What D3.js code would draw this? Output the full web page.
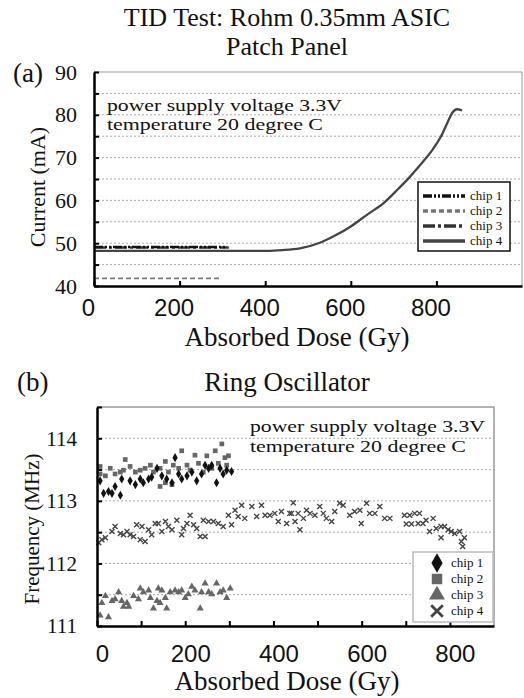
<!DOCTYPE html>
<html>
<head>
<meta charset="utf-8">
<script src="https://cdn.jsdelivr.net/npm/d3@7"></script>
<style>
  body { margin: 0; background: #fff; }
  svg text { font-family: "Liberation Serif", "Times New Roman", serif; fill: #111; }
  .xnum text { font-family: "Liberation Sans", Arial, sans-serif; }
</style>
</head>
<body>
<svg id="chart" width="524" height="698"></svg>
<script>
// ---- panel (a): current vs dose ----
const chipNames = ["chip 1", "chip 2", "chip 3", "chip 4"];

const chip1Dose = [0, 310];
const chip1Current = [49.1, 49.1];
const chip2Dose = [0, 294];
const chip2Current = [41.8, 41.8];
const chip3Dose = [0, 315];
const chip3Current = [49.0, 49.0];
const chip4Dose = [0, 100, 200, 300, 381, 440, 481, 528, 560, 600, 640, 676, 710, 738, 765, 792, 810, 826, 838, 848, 860];
const chip4Current = [48.2, 48.2, 48.2, 48.2, 48.2, 48.4, 48.8, 50.1, 51.6, 53.9, 56.8, 59.3, 62.6, 65.5, 68.6, 72.0, 74.8, 78.2, 80.6, 81.3, 81.0];

const currentTicks = [40, 45, 50, 55, 60, 65, 70, 75, 80, 85, 90];
const currentLabels = [40, 50, 60, 70, 80, 90];
const currentGrid = [45, 50, 55, 60, 65, 70, 75, 80, 85];
const doseTicksA = [0, 200, 400, 600, 800];

// ---- panel (b): ring oscillator frequency vs dose ----
const ro1Dose = [7, 15, 26, 34, 41, 53, 56, 75, 87, 98, 105, 117, 124, 136, 147, 158, 170, 177, 185, 192, 204, 215, 226, 237, 245, 253, 260, 271, 279, 286, 294, 305];
const ro1Freq = [113.32, 113.12, 113.15, 113.12, 113.23, 113.09, 113.35, 113.32, 113.26, 113.35, 113.29, 113.35, 113.38, 113.52, 113.40, 113.35, 113.29, 113.69, 113.43, 113.35, 113.40, 113.46, 113.32, 113.43, 113.57, 113.52, 113.57, 113.29, 113.52, 113.43, 113.49, 113.47];

const ro2Dose = [7, 7, 19, 30, 41, 53, 60, 64, 75, 87, 98, 109, 121, 128, 143, 143, 155, 155, 162, 170, 173, 185, 192, 204, 211, 222, 230, 241, 249, 260, 268, 275, 283, 290, 294, 298];
const ro2Freq = [113.55, 113.43, 113.40, 113.52, 113.43, 113.46, 113.49, 113.66, 113.55, 113.46, 113.49, 113.52, 113.57, 113.46, 113.52, 113.23, 113.63, 113.29, 113.46, 113.26, 113.57, 113.52, 113.80, 113.57, 113.49, 113.73, 113.60, 113.46, 113.72, 113.52, 113.80, 113.60, 113.91, 113.69, 113.57, 113.72];

const ro3Dose = [7, 11, 19, 26, 34, 41, 49, 56, 60, 68, 72, 83, 94, 98, 105, 117, 121, 128, 136, 139, 143, 147, 155, 158, 166, 177, 185, 192, 200, 207, 215, 222, 234, 237, 245, 253, 260, 271, 279, 286, 294, 302];
const ro3Freq = [111.17, 111.37, 111.48, 111.14, 111.40, 111.43, 111.54, 111.40, 111.31, 111.37, 111.31, 111.48, 111.43, 111.60, 111.54, 111.57, 111.45, 111.28, 111.40, 111.60, 111.37, 111.57, 111.45, 111.28, 111.54, 111.57, 111.54, 111.57, 111.45, 111.51, 111.63, 111.57, 111.28, 111.54, 111.68, 111.54, 111.51, 111.68, 111.54, 111.57, 111.45, 111.60];

const ro4Dose = [4, 11, 19, 34, 41, 53, 60, 68, 75, 83, 90, 98, 102, 109, 117, 124, 132, 139, 147, 155, 162, 170, 181, 192, 196, 204, 211, 219, 226, 234, 241, 245, 253, 264, 275, 286, 298, 305, 313, 320, 328, 335, 351, 362, 373, 381, 392, 403, 411, 418, 430, 437, 441, 445, 449, 456, 460, 468, 475, 483, 494, 505, 513, 520, 532, 539, 550, 558, 573, 584, 596, 599, 611, 618, 630, 641, 652, 664, 697, 701, 709, 713, 720, 728, 731, 739, 746, 754, 762, 769, 780, 780, 788, 796, 803, 811, 822, 826, 829, 833];
const ro4Freq = [112.33, 112.38, 112.41, 112.51, 112.59, 112.48, 112.46, 112.51, 112.46, 112.43, 112.62, 112.38, 112.59, 112.35, 112.54, 112.46, 112.64, 112.64, 112.51, 112.67, 112.59, 112.54, 112.69, 112.46, 112.56, 112.64, 112.77, 112.62, 112.56, 112.43, 112.69, 112.43, 112.67, 112.67, 112.64, 112.59, 112.77, 112.62, 112.85, 112.75, 112.93, 112.72, 112.91, 112.75, 112.93, 112.77, 112.77, 112.80, 112.67, 112.83, 112.64, 112.80, 112.80, 112.97, 112.67, 112.80, 112.54, 112.72, 112.85, 112.80, 112.77, 112.91, 112.80, 112.72, 112.67, 112.83, 112.96, 112.93, 112.77, 112.83, 112.85, 112.64, 112.96, 112.80, 112.80, 112.91, 112.72, 112.72, 112.77, 112.63, 112.77, 112.63, 112.80, 112.64, 112.80, 112.64, 112.69, 112.51, 112.72, 112.56, 112.59, 112.41, 112.59, 112.54, 112.51, 112.48, 112.51, 112.35, 112.27, 112.41];

const freqTicks = [111, 111.5, 112, 112.5, 113, 113.5, 114, 114.5];
const freqLabels = [111, 112, 113, 114];
const freqGrid = [111.5, 112, 112.5, 113, 113.5, 114];
const doseTicksB = [0, 100, 200, 300, 400, 500, 600, 700, 800];
const doseLabelsB = [0, 200, 400, 600, 800];

const titleLines = ["TID Test: Rohm 0.35mm ASIC", "Patch Panel"];
const noteLines = ["power supply voltage 3.3V", "temperature 20 degree C"];
const noteWidths = [235, 216];

const svg = d3.select("#chart");
const zip = (xs, ys) => xs.map((x, i) => ({ x: x, y: ys[i] }));

// two-line note, stretched to the widths seen in the picture
function addNote(x, y0, gap, size) {
    noteLines.forEach((line, i) => {
        svg.append("text").attr("x", x).attr("y", y0 + i * gap).attr("font-size", size)
            .attr("textLength", noteWidths[i]).attr("lengthAdjust", "spacingAndGlyphs")
            .text(line);
    });
}

// ======== panel (a) ========
const xA = d3.scaleLinear().domain([0, 1000]).range([94, 522]);
const yA = d3.scaleLinear().domain([40, 90]).range([286, 72]);

titleLines.forEach((line, i) => {
    svg.append("text").attr("x", 287).attr("y", 26 + i * 29).attr("text-anchor", "middle")
        .attr("font-size", 26).text(line);
});
svg.append("text").attr("x", 13).attr("y", 82).attr("font-size", 27).text("(a)");

// grid
svg.append("g").selectAll("line").data(currentGrid).join("line")
    .attr("x1", xA(0)).attr("x2", xA(1000))
    .attr("y1", d => yA(d)).attr("y2", d => yA(d))
    .attr("stroke", "#aaa").attr("stroke-width", 1).attr("stroke-dasharray", "2,2");

// frame (top, right)
svg.append("path")
    .attr("d", `M${xA(0)},${yA(90)}H${xA(1000)}V${yA(40)}`)
    .attr("fill", "none").attr("stroke", "#999").attr("stroke-width", 1);

// series lines
const lineA = d3.line().x(d => xA(d.x)).y(d => yA(d.y)).curve(d3.curveMonotoneX);
const seriesA = [
    { name: chipNames[0], data: zip(chip1Dose, chip1Current), color: "#111", dash: "9,2,2,2,2,2", w: 2.5 },
    { name: chipNames[1], data: zip(chip2Dose, chip2Current), color: "#777", dash: "5,3", w: 1.8 },
    { name: chipNames[2], data: zip(chip3Dose, chip3Current), color: "#333", dash: "12,3,3,3", w: 2.5 },
    { name: chipNames[3], data: zip(chip4Dose, chip4Current), color: "#444", dash: null, w: 2.3 }
];
seriesA.slice().reverse().forEach(s => {
    svg.append("path").datum(s.data).attr("d", lineA)
        .attr("fill", "none").attr("stroke", s.color).attr("stroke-width", s.w)
        .attr("stroke-dasharray", s.dash);
});

// axes
const yAxisA = svg.append("g").attr("transform", `translate(${xA(0)},0)`)
    .call(d3.axisLeft(yA).tickValues(currentTicks).tickSize(-5).tickSizeOuter(0).tickPadding(17)
        .tickFormat(d => currentLabels.includes(d) ? d : ""));
yAxisA.select(".domain").attr("stroke", "#000").attr("stroke-width", 2.5);
yAxisA.selectAll(".tick line").attr("stroke", "#000").attr("stroke-width", 2);
yAxisA.selectAll(".tick text").attr("font-size", 22).attr("fill", "#111");

const xAxisA = svg.append("g").attr("class", "xnum").attr("transform", `translate(0,${yA(40)})`)
    .call(d3.axisBottom(xA).tickValues(doseTicksA).tickSize(-5).tickSizeOuter(0).tickPadding(13));
xAxisA.select(".domain").attr("stroke", "#000").attr("stroke-width", 2.5);
xAxisA.selectAll(".tick line").attr("stroke", "#000").attr("stroke-width", 2);
xAxisA.selectAll(".tick text").attr("font-size", 24).attr("fill", "#111").attr("dx", -6);

svg.append("text").attr("x", 297).attr("y", 346).attr("text-anchor", "middle")
    .attr("font-size", 27).text("Absorbed Dose (Gy)");
svg.append("text").attr("transform", "translate(45,187) rotate(-90)").attr("text-anchor", "middle")
    .attr("font-size", 22).text("Current (mA)");

addNote(107, 111, 18.5, 16.5);

// legend (a)
const legA = svg.append("g").attr("transform", "translate(418,182)");
legA.append("rect").attr("width", 92).attr("height", 69).attr("fill", "#fff")
    .attr("stroke", "#111").attr("stroke-width", 1.5);
seriesA.forEach((s, i) => {
    const yy = 14 + i * 15;
    legA.append("line").attr("x1", 5).attr("x2", 47).attr("y1", yy).attr("y2", yy)
        .attr("stroke", s.color).attr("stroke-width", 3.5).attr("stroke-dasharray", s.dash);
    legA.append("text").attr("x", 52).attr("y", yy + 4).attr("font-size", 13).text(s.name);
});

// ======== panel (b) ========
const xB = d3.scaleLinear().domain([0, 900]).range([97, 494]);
const yB = d3.scaleLinear().domain([111, 114.5]).range([626, 407]);

svg.append("text").attr("x", 17).attr("y", 391).attr("font-size", 27).text("(b)");
svg.append("text").attr("x", 287).attr("y", 391).attr("text-anchor", "middle")
    .attr("font-size", 27).text("Ring Oscillator");

svg.append("g").selectAll("line").data(freqGrid).join("line")
    .attr("x1", xB(0)).attr("x2", xB(900))
    .attr("y1", d => yB(d)).attr("y2", d => yB(d))
    .attr("stroke", "#aaa").attr("stroke-width", 1).attr("stroke-dasharray", "2,2");

svg.append("path")
    .attr("d", `M${xB(0)},${yB(114.5)}H${xB(900)}V${yB(111)}`)
    .attr("fill", "none").attr("stroke", "#999").attr("stroke-width", 1.5);

addNote(250, 432, 19.5, 17.5);

const seriesB = [
    { name: chipNames[0], data: zip(ro1Dose, ro1Freq), type: d3.symbolDiamond, color: "#111", size: 24, stroke: false },
    { name: chipNames[1], data: zip(ro2Dose, ro2Freq), type: d3.symbolSquare, color: "#666", size: 22, stroke: false },
    { name: chipNames[2], data: zip(ro3Dose, ro3Freq), type: d3.symbolTriangle, color: "#666", size: 22, stroke: false },
    { name: chipNames[3], data: zip(ro4Dose, ro4Freq), type: d3.symbolX, color: "#444", size: 18, stroke: true }
];
seriesB.slice().reverse().forEach(s => {
    const sym = d3.symbol().type(s.type).size(s.size);
    svg.append("g").selectAll("path").data(s.data).join("path")
        .attr("transform", d => `translate(${xB(d.x)},${yB(d.y)})`)
        .attr("d", sym)
        .attr("fill", s.stroke ? "none" : s.color)
        .attr("stroke", s.stroke ? s.color : "none")
        .attr("stroke-width", 1.4);
});

const yAxisB = svg.append("g").attr("transform", `translate(${xB(0)},0)`)
    .call(d3.axisLeft(yB).tickValues(freqTicks).tickSize(-5).tickSizeOuter(0).tickPadding(20)
        .tickFormat(d => freqLabels.includes(d) ? d : ""));
yAxisB.select(".domain").attr("stroke", "#000").attr("stroke-width", 2.5);
yAxisB.selectAll(".tick line").attr("stroke", "#000").attr("stroke-width", 2);
yAxisB.selectAll(".tick text").attr("font-size", 21).attr("fill", "#111");

const xAxisB = svg.append("g").attr("class", "xnum").attr("transform", `translate(0,${yB(111)})`)
    .call(d3.axisBottom(xB).tickValues(doseTicksB).tickSize(-5).tickSizeOuter(0).tickPadding(19)
        .tickFormat(d => doseLabelsB.includes(d) ? d : ""));
xAxisB.select(".domain").attr("stroke", "#000").attr("stroke-width", 2.5);
xAxisB.selectAll(".tick line").attr("stroke", "#000").attr("stroke-width", 2);
xAxisB.selectAll(".tick text").attr("font-size", 24).attr("fill", "#111").attr("dx", 5);

svg.append("text").attr("x", 287).attr("y", 690).attr("text-anchor", "middle")
    .attr("font-size", 27).text("Absorbed Dose (Gy)");
svg.append("text").attr("transform", "translate(39,529) rotate(-90)").attr("text-anchor", "middle")
    .attr("font-size", 21).text("Frequency (MHz)");

// legend (b)
const legB = svg.append("g").attr("transform", "translate(413,552)");
legB.append("rect").attr("width", 80).attr("height", 70).attr("fill", "#fff")
    .attr("stroke", "#bbb").attr("stroke-width", 1.5);
seriesB.forEach((s, i) => {
    const yy = 11 + i * 16;
    const big = d3.symbol().type(s.type).size(s.stroke ? 90 : 110);
    legB.append("path").attr("transform", `translate(24,${yy})`).attr("d", big)
        .attr("fill", s.stroke ? "none" : s.color)
        .attr("stroke", s.stroke ? s.color : "none").attr("stroke-width", 2.8);
    legB.append("text").attr("x", 38).attr("y", yy + 4).attr("font-size", 13).text(s.name);
});
</script>
</body>
</html>
